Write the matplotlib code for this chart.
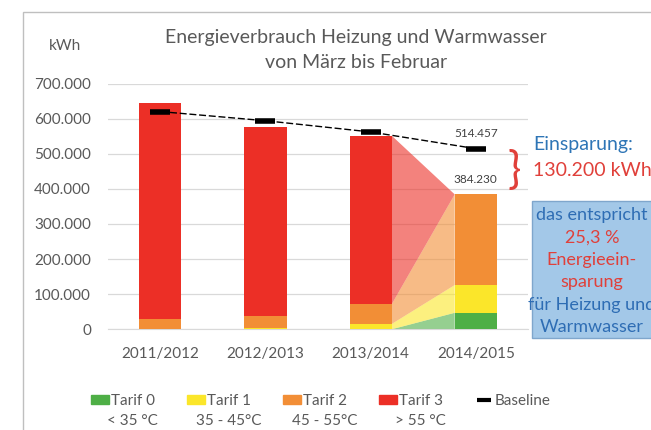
import numpy as np
import matplotlib.pyplot as plt
from matplotlib.patches import Rectangle, Patch
from matplotlib.lines import Line2D
from matplotlib.ticker import FuncFormatter

plt.rcParams['font.family'] = ['Lato', 'DejaVu Sans']

# daten (kWh)
jahre = ['2011/2012', '2012/2013', '2013/2014', '2014/2015']
tarif0 = [0, 0, 0, 47000]
tarif1 = [0, 4600, 15000, 79000]
tarif2 = [28500, 33300, 56000, 258230]
tarif3 = [615500, 539100, 480600, 0]
baseline = [620000, 594000, 562000, 514457]

tarifNamen = ['Tarif 0', 'Tarif 1', 'Tarif 2', 'Tarif 3']
tarifTemp = ['< 35 °C', '35 - 45°C', '45 - 55°C', '> 55 °C']
farben = ['#4EAF46', '#FBE62A', '#F28E36', '#EC2F26']

boxZeilen = ['das entspricht', '25,3 %', 'Energieein-', 'sparung', 'für Heizung und', 'Warmwasser']
boxFarben = ['#2E6DB4', '#E0403A', '#E0403A', '#E0403A', '#2E6DB4', '#2E6DB4']

W, H = 651, 430
grau = '#595959'

def fmt(v, pos=None):
    return f'{v:,.0f}'.replace(',', '.')

fig = plt.figure(figsize=(W / 100, H / 100), dpi=100)
ax = fig.add_axes([107.8 / W, 1 - 329.3 / H, (528.3 - 107.8) / W, (329.3 - 83.5) / H])

x = np.arange(len(jahre))
breite = 0.4
serien = [tarif0, tarif1, tarif2, tarif3]
unten = np.zeros(len(jahre))
for werte, farbe in zip(serien, farben):
    ax.bar(x, werte, breite, bottom=unten, color=farbe, zorder=3)
    unten = unten + np.array(werte)

# uebergang zwischen 2013/2014 und 2014/2015
xu = [x[2] + breite / 2, x[3] - breite / 2]
ax.stackplot(xu, [[s[2], s[3]] for s in serien], colors=farben, alpha=0.6, zorder=2, lw=0)

ax.plot(x, baseline, color='black', lw=1, ls=(0, (5, 2)), marker='_', ms=15, mew=4, zorder=4)

ax.annotate(fmt(baseline[3]), (x[3], baseline[3]), xytext=(0, 7), textcoords='offset points',
            ha='center', va='bottom', fontsize=8.5, color='#404040')
ax.annotate(fmt(unten[3]), (x[3], unten[3]), xytext=(0, 7), textcoords='offset points',
            ha='center', va='bottom', fontsize=8.5, color='#404040')

ax.set_xlim(-0.5, 3.5)
ax.set_ylim(0, 700000)
ax.set_yticks(np.arange(0, 700001, 100000))
ax.yaxis.set_major_formatter(FuncFormatter(fmt))
ax.set_xticks(x)
ax.set_xticklabels(jahre)
ax.tick_params(axis='both', length=0, labelsize=11, labelcolor=grau)
ax.tick_params(axis='y', pad=12)
ax.tick_params(axis='x', pad=13)
ax.grid(axis='y', color='#D9D9D9', lw=0.9, zorder=0)
for s in ['top', 'right', 'left']:
    ax.spines[s].set_visible(False)
ax.spines['bottom'].set_color('#D9D9D9')

# rahmen
fig.patches.append(Rectangle((22.7 / W, -0.1), 2, 1 - 12.3 / H + 0.1, transform=fig.transFigure,
                             fill=False, ec='#BFBFBF', lw=1))

fig.text(356 / W, 1 - 37 / H, 'Energieverbrauch Heizung und Warmwasser', ha='center', va='center',
         fontsize=14, color=grau)
fig.text(356 / W, 1 - 63 / H, 'von März bis Februar', ha='center', va='center', fontsize=14, color=grau)
fig.text(65 / W, 1 - 46 / H, 'kWh', ha='center', va='center', fontsize=11, color=grau)

# einsparung
fig.text(514 / W, 1 - 172 / H, '}', ha='center', va='center', fontsize=32, color='#E0403A')
fig.text(533 / W, 1 - 145 / H, 'Einsparung:', ha='left', va='center', fontsize=14, color='#2E75B6')
fig.text(533 / W, 1 - 171 / H, '130.200 kWh', ha='left', va='center', fontsize=14, color='#E0403A')

fig.patches.append(Rectangle((532 / W, 1 - 338 / H), (700 - 532) / W, (338 - 201) / H,
                             transform=fig.transFigure, fc='#A3C8E8', ec='#7FA6CC', lw=1))
for i, (zeile, farbe) in enumerate(zip(boxZeilen, boxFarben)):
    fig.text(592 / W, 1 - (215 + i * 22.4) / H, zeile, ha='center', va='center', fontsize=13, color=farbe)

# legende
handles = [Patch(color=f) for f in farben] + [Line2D([], [], color='black', ls='none', marker='_', ms=10, mew=3)]
leg = fig.legend(handles, tarifNamen + ['Baseline'], loc='center left',
                 bbox_to_anchor=(91 / W, 1 - 401 / H), ncol=5, frameon=False, fontsize=11,
                 handlelength=1.2, handleheight=0.55, handletextpad=0.1, columnspacing=2.1,
                 borderpad=0, borderaxespad=0, labelcolor=grau)

fig.canvas.draw()
inv = fig.transFigure.inverted()
for t, temp in zip(leg.get_texts()[:4], tarifTemp):
    bb = t.get_window_extent()
    cx, cy = inv.transform(((bb.x0 + bb.x1) / 2, (bb.y0 + bb.y1) / 2))
    fig.text(cx, cy - 20 / H, temp, ha='center', va='center', fontsize=11, color=grau)

fig.savefig('out.png', dpi=100)
